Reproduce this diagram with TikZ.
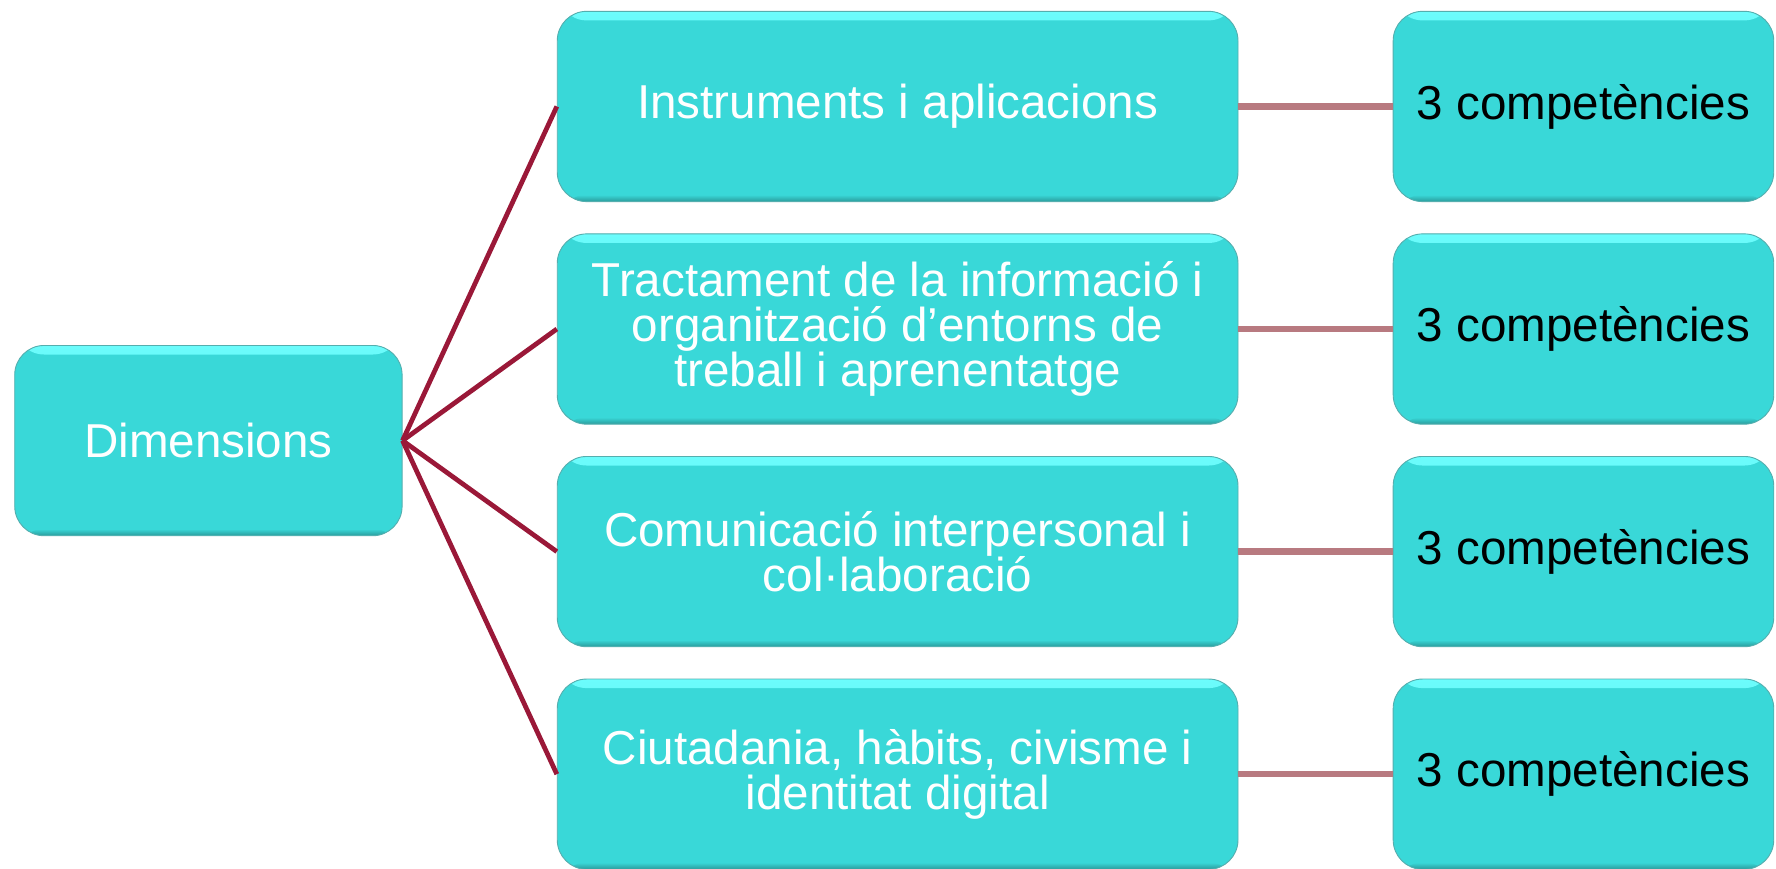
\documentclass[tikz,border=0pt]{standalone}
\usepackage{fontspec}
\setmainfont{Liberation Sans}
\definecolor{tq}{HTML}{39D8D8}
\definecolor{tqhl}{HTML}{6CFCFC}
\definecolor{tqdk}{HTML}{2A9A9A}
\definecolor{lnred}{HTML}{9A1838}
\definecolor{lnpink}{HTML}{B87A80}
\tikzset{
  tbox/.style={rounded corners=26pt, fill=tq, draw=tqdk!80, line width=0.8pt,
    inner sep=0pt, align=center, font=\fontsize{42pt}{40pt}\selectfont,
    path picture={
      \shade[top color=tqhl, bottom color=tq]
        (path picture bounding box.north west) rectangle ([yshift=-8pt]path picture bounding box.north east);
      \shade[top color=tq, bottom color=tqdk]
        ([yshift=6pt]path picture bounding box.south west) rectangle (path picture bounding box.south east);
    }},
  leftbox/.style={tbox, minimum width=342pt, minimum height=168pt, text=white},
  midbox/.style={tbox, minimum width=601pt, minimum height=168pt, text=white},
  rightbox/.style={tbox, minimum width=336pt, minimum height=168pt, text=black},
  redlink/.style={draw=lnred, line width=4.2pt},
  pinklink/.style={draw=lnpink, line width=5.5pt}
}
\begin{document}
\begin{tikzpicture}[x=1pt,y=-1pt]
\useasboundingbox (0,0) rectangle (1568,767);
\fill[white] (0,0) rectangle (1568,767);

\node[leftbox] (dim) at (184,389) {\raisebox{-3pt}{Dimensions}};

\node[midbox] (m1) at (792.5,94) {\raisebox{-3pt}{Instruments i aplicacions}};
\node[midbox] (m2) at (792.5,290.5) {Tractament de la informació i\\organització d’entorns de\\treball i aprenentatge};
\node[midbox] (m3) at (792.5,487) {Comunicació interpersonal i\\col·laboració};
\node[midbox] (m4) at (792.5,683.5) {Ciutadania, hàbits, civisme i\\identitat digital};

\node[rightbox] (r1) at (1398,94) {\raisebox{-3pt}{3 competències}};
\node[rightbox] (r2) at (1398,290.5) {\raisebox{-3pt}{3 competències}};
\node[rightbox] (r3) at (1398,487) {\raisebox{-3pt}{3 competències}};
\node[rightbox] (r4) at (1398,683.5) {\raisebox{-3pt}{3 competències}};

\foreach \i in {1,2,3,4} {
  \draw[redlink] (dim.east) -- (m\i.west);
  \draw[pinklink] (m\i.east) -- (r\i.west);
}
\end{tikzpicture}
\end{document}
